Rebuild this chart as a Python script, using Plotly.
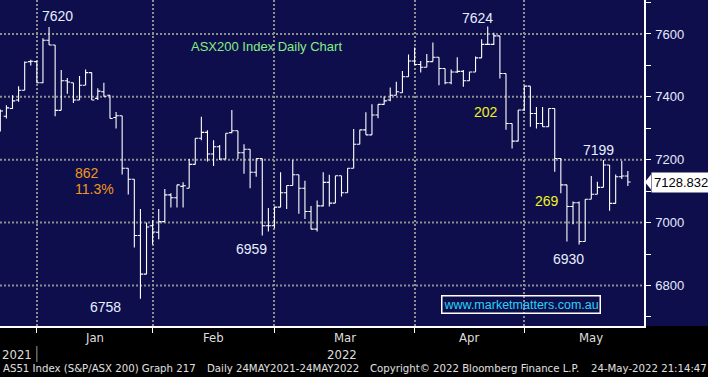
import plotly.graph_objects as go

# ---------------- data ----------------
dates = [
    "2021-12-21", "2021-12-22", "2021-12-23", "2021-12-24", "2021-12-29", "2021-12-30", "2021-12-31",
    "2022-01-04", "2022-01-05", "2022-01-06", "2022-01-07", "2022-01-10", "2022-01-11", "2022-01-12",
    "2022-01-13", "2022-01-14", "2022-01-17", "2022-01-18", "2022-01-19", "2022-01-20", "2022-01-21",
    "2022-01-24", "2022-01-25", "2022-01-27", "2022-01-28", "2022-01-31",
    "2022-02-01", "2022-02-02", "2022-02-03", "2022-02-04", "2022-02-07", "2022-02-08", "2022-02-09",
    "2022-02-10", "2022-02-11", "2022-02-14", "2022-02-15", "2022-02-16", "2022-02-17", "2022-02-18",
    "2022-02-21", "2022-02-22", "2022-02-23", "2022-02-24", "2022-02-25", "2022-02-28",
    "2022-03-01", "2022-03-02", "2022-03-03", "2022-03-04", "2022-03-07", "2022-03-08", "2022-03-09",
    "2022-03-10", "2022-03-11", "2022-03-14", "2022-03-15", "2022-03-16", "2022-03-17", "2022-03-18",
    "2022-03-21", "2022-03-22", "2022-03-23", "2022-03-24", "2022-03-25", "2022-03-28", "2022-03-29",
    "2022-03-30", "2022-03-31",
    "2022-04-01", "2022-04-04", "2022-04-05", "2022-04-06", "2022-04-07", "2022-04-08", "2022-04-11",
    "2022-04-12", "2022-04-13", "2022-04-14", "2022-04-19", "2022-04-20", "2022-04-21", "2022-04-22",
    "2022-04-26", "2022-04-27", "2022-04-28", "2022-04-29",
    "2022-05-02", "2022-05-03", "2022-05-04", "2022-05-05", "2022-05-06", "2022-05-09", "2022-05-10",
    "2022-05-11", "2022-05-12", "2022-05-13", "2022-05-16", "2022-05-17", "2022-05-18", "2022-05-19",
    "2022-05-20", "2022-05-23", "2022-05-24",
]

opens = [
    7330, 7338, 7363, 7390, 7421, 7512, 7512,
    7445, 7580, 7565, 7357, 7451, 7445, 7390, 7437, 7477, 7395, 7416, 7405, 7334, 7340,
    7173, 7138, 6959, 6836, 6990,
    6969, 7003, 7088, 7079, 7115, 7109, 7185, 7268, 7287, 7218, 7241, 7202, 7286, 7292,
    7222, 7233, 7160, 7204, 6990, 6990,
    7049, 7095, 7118, 7152, 7109, 7035, 6979, 7053, 7128, 7062, 7149, 7095, 7173, 7249,
    7295, 7279, 7342, 7376, 7390, 7405, 7413, 7464, 7514,
    7503, 7494, 7512, 7526, 7490, 7445, 7479, 7481, 7451, 7479, 7524, 7567, 7567, 7594,
    7474, 7315, 7259, 7358,
    7434, 7347, 7315, 7305, 7363, 7204, 7120, 7051, 7063, 6940, 7074, 7090, 7112, 7183,
    7061, 7146, 7148,
]
highs = [
    7360, 7373, 7405, 7434, 7512, 7518, 7515,
    7586, 7622, 7565, 7485, 7460, 7445, 7466, 7487, 7477, 7427, 7445, 7405, 7352, 7340,
    7173, 7138, 7043, 7000, 7007,
    7043, 7107, 7093, 7120, 7128, 7202, 7268, 7337, 7294, 7262, 7247, 7284, 7358, 7292,
    7249, 7233, 7204, 7204, 7046, 7051,
    7160, 7118, 7199, 7152, 7133, 7053, 7070, 7160, 7152, 7149, 7149, 7173, 7298, 7295,
    7351, 7376, 7376, 7401, 7430, 7448, 7482, 7535, 7557,
    7514, 7536, 7573, 7526, 7490, 7487, 7526, 7485, 7480, 7528, 7583, 7624, 7604, 7594,
    7474, 7315, 7358, 7434,
    7434, 7368, 7368, 7363, 7363, 7204, 7120, 7067, 7067, 7074, 7148, 7130, 7199, 7183,
    7153, 7197, 7164,
]
lows = [
    7290, 7331, 7362, 7384, 7421, 7500, 7443,
    7443, 7565, 7338, 7357, 7410, 7380, 7390, 7437, 7390, 7390, 7400, 7331, 7299, 7153,
    7089, 6921, 6758, 6836, 6930,
    6947, 7003, 7048, 7048, 7048, 7109, 7185, 7262, 7194, 7180, 7199, 7201, 7284, 7202,
    7155, 7109, 7146, 6959, 6972, 6982,
    7049, 7043, 7118, 7028, 7011, 6979, 6972, 7051, 7051, 7062, 7083, 7095, 7173, 7249,
    7279, 7279, 7332, 7375, 7386, 7405, 7413, 7464, 7501,
    7477, 7494, 7512, 7437, 7440, 7440, 7476, 7432, 7451, 7479, 7524, 7565, 7565, 7458,
    7295, 7236, 7259, 7355,
    7305, 7299, 7305, 7305, 7162, 7093, 6940, 6995, 6930, 6940, 7074, 7090, 7112, 7038,
    7061, 7139, 7116,
]
closes = [
    7355, 7365, 7387, 7421, 7510, 7513, 7445,
    7580, 7565, 7357, 7451, 7447, 7390, 7437, 7477, 7390, 7418, 7402, 7331, 7340, 7173,
    7138, 6959, 6836, 6986, 6970,
    7003, 7088, 7079, 7120, 7117, 7185, 7268, 7287, 7218, 7241, 7202, 7284, 7292, 7222,
    7233, 7160, 7204, 6990, 6990, 7049,
    7095, 7118, 7152, 7109, 7035, 6979, 7053, 7128, 7062, 7149, 7095, 7173, 7249, 7295,
    7279, 7342, 7376, 7387, 7405, 7416, 7464, 7514, 7503,
    7494, 7512, 7526, 7490, 7445, 7479, 7481, 7451, 7479, 7524, 7567, 7567, 7594, 7474,
    7315, 7259, 7358, 7434,
    7347, 7315, 7305, 7363, 7204, 7120, 7051, 7063, 6940, 7074, 7090, 7112, 7183, 7061,
    7146, 7148, 7128.832,
]

month_names = ["Jan", "Feb", "Mar", "Apr", "May"]
month_sessions = [19, 20, 23, 18, 22]   # trading sessions per calendar month
price_ticks = [6700, 6800, 6900, 7000, 7100, 7200, 7300, 7400, 7500, 7600, 7700]
price_labels = ["6800", "7000", "7200", "7400", "7600"]

# text annotations: (text, bar index position, price level, colour)
value_notes = [
    ("7620", 9.35, 7657, "#e8eeff"),
    ("7624", 78.4, 7652, "#e8eeff"),
    ("6758", 17.2, 6732, "#e8eeff"),
    ("6959", 41.2, 6916, "#e8eeff"),
    ("7199", 98.2, 7231, "#e8eeff"),
    ("6930", 93.2, 6884, "#e8eeff"),
    ("202", 79.7, 7352, "#f2f21e"),
    ("269", 89.7, 7069, "#f2f21e"),
]
footer_parts = [
    ("AS51 Index (S&P/ASX 200) Graph 217", 1),
    ("Daily 24MAY2021-24MAY2022", 205),
    ("Copyright\u00a9 2022 Bloomberg Finance L.P.", 368),
    ("24-May-2022 21:14:47", 589),
]

# ---------------- figure ----------------
NAVY = "#0f0e4c"
W, H = 708, 377
ML, MR, MT, MB = 0, 64, 0, 51
PW, PH = W - ML - MR, H - MT - MB

idx = list(range(len(dates)))
n = len(idx)

# month boundaries: index of last session of previous month
bounds = []
for i in range(1, n):
    if dates[i][5:7] != dates[i - 1][5:7]:
        bounds.append(i - 1)
edges = [bounds[0]]
for s in month_sessions:
    edges.append(edges[-1] + s)
centers = [(edges[k] + edges[k + 1]) / 2 for k in range(len(month_names))]

xr = [-0.05, 105.65]
yr = [6671, 7708]

fig = go.Figure()
fig.add_trace(go.Ohlc(
    x=idx, open=opens, high=highs, low=lows, close=closes,
    increasing=dict(line=dict(color="white", width=1.1)),
    decreasing=dict(line=dict(color="white", width=1.1)),
    tickwidth=0.45, hoverinfo="skip", showlegend=False,
))

# major tick markers on the price axis
major = [int(p) for p in price_labels]
fig.add_trace(go.Scatter(
    x=[xr[1] + 0.75] * len(major), y=major, mode="markers",
    marker=dict(symbol="triangle-left", size=7, color="white", line=dict(width=0)),
    cliponaxis=False, hoverinfo="skip", showlegend=False,
))

tick_text = [str(p) if str(p) in price_labels else "" for p in price_ticks]

fig.update_layout(
    width=W, height=H,
    margin=dict(l=ML, r=MR, t=MT, b=MB, autoexpand=False),
    paper_bgcolor="black", plot_bgcolor=NAVY,
    font=dict(family="Liberation Sans, Arial, sans-serif", color="#e6ecff"),
    showlegend=False,
    xaxis=dict(
        range=xr, tickvals=bounds, ticktext=[""] * len(bounds),
        showgrid=True, gridcolor="#8e8e8e", gridwidth=2, griddash="2px,2px",
        showline=True, linecolor="white", linewidth=2,
        ticks="outside", ticklen=5, tickcolor="white", tickwidth=1,
        zeroline=False, rangeslider=dict(visible=False), fixedrange=True,
    ),
    yaxis=dict(
        range=yr, side="right", tickvals=price_ticks, ticktext=tick_text,
        showgrid=False, showline=True, linecolor="white", linewidth=1.5,
        ticks="outside", ticklen=5, tickcolor="white", tickwidth=1,
        tickfont=dict(size=13, color="#e4eaff"), ticklabelstandoff=2,
        zeroline=False, fixedrange=True,
    ),
)

shapes = []
# navy band behind the price-axis area
shapes.append(dict(type="rect", xref="paper", yref="paper", x0=1, x1=1 + MR / PW, y0=0, y1=1,
                   fillcolor=NAVY, line=dict(width=0), layer="below"))
# horizontal dotted grid at labelled levels
for p in major:
    shapes.append(dict(type="line", xref="paper", yref="y", x0=0, x1=1, y0=p, y1=p,
                       line=dict(color="#8e8e8e", width=2, dash="2px,2px"), layer="below"))
# year separator
shapes.append(dict(type="line", xref="x", yref="paper", x0=bounds[0], x1=bounds[0],
                   y0=-20 / PH, y1=-36 / PH, line=dict(color="#9a9a9a", width=1)))
# last-price flag arrow
last = closes[-1]
dv = (yr[1] - yr[0]) / PH
shapes.append(dict(type="path", xref="paper", yref="y",
                   path=f"M 1.0015,{last} L {1 + 7 / PW},{last + 7.5 * dv} L {1 + 7 / PW},{last - 7.5 * dv} Z",
                   fillcolor="white", line=dict(color="white", width=0)))
fig.update_layout(shapes=shapes)

ann = []
for txt, xi, yv, col in value_notes:
    ann.append(dict(text=txt, x=xi, y=yv, xref="x", yref="y", showarrow=False,
                    font=dict(size=14, color=col, family="Liberation Sans, Arial, sans-serif")))
# drawdown notes
ann.append(dict(text="862", x=12.0, y=7158, xref="x", yref="y", xanchor="left", showarrow=False,
                font=dict(size=14, color="#f0961e")))
ann.append(dict(text="11.3%", x=12.0, y=7107, xref="x", yref="y", xanchor="left", showarrow=False,
                font=dict(size=14, color="#f0961e")))
# chart title
ann.append(dict(text="ASX200 Index Daily Chart", x=31.0, y=7559, xref="x", yref="y", xanchor="left",
                showarrow=False, font=dict(size=13, color="#84ee84")))
# website box
ann.append(dict(text="www.marketmatters.com.au", x=85.4, y=6740, xref="x", yref="y", showarrow=False,
                font=dict(size=12.5, color="#25d4f5"), bordercolor="white", borderwidth=1.5, borderpad=1))
# last price label
ann.append(dict(text=f"{last:.3f}", x=1 + 7 / PW, y=last, xref="paper", yref="y", xanchor="left",
                showarrow=False, bgcolor="white", borderpad=2,
                font=dict(size=13, color="black")))
# month labels
narrow = "Liberation Sans Narrow, DejaVu Sans Condensed, Arial Narrow, sans-serif"
for name, c in zip(month_names, centers):
    ann.append(dict(text=name, x=c, y=-11 / PH, xref="x", yref="paper", showarrow=False,
                    yanchor="middle", font=dict(size=13, color="#dedede", family=narrow)))
# year labels
ann.append(dict(text="2021", x=0, y=-28 / PH, xref="paper", yref="paper", xanchor="left",
                yanchor="middle", showarrow=False, font=dict(size=13, color="#dedede", family=narrow)))
ann.append(dict(text="2022", x=centers[2], y=-28 / PH, xref="x", yref="paper", xanchor="center",
                xshift=-3, yanchor="middle", showarrow=False,
                font=dict(size=13, color="#dedede", family=narrow)))
# footer
for txt, px in footer_parts:
    ann.append(dict(text=txt, x=px / PW, y=-42 / PH, xref="paper", yref="paper", xanchor="left",
                    yanchor="middle", showarrow=False,
                    font=dict(size=11.3, color="#e0e0e0", family=narrow)))
fig.update_layout(annotations=ann)

fig.write_html("out.html", config={"displayModeBar": False},
               post_script="document.body.style.margin='0';")
